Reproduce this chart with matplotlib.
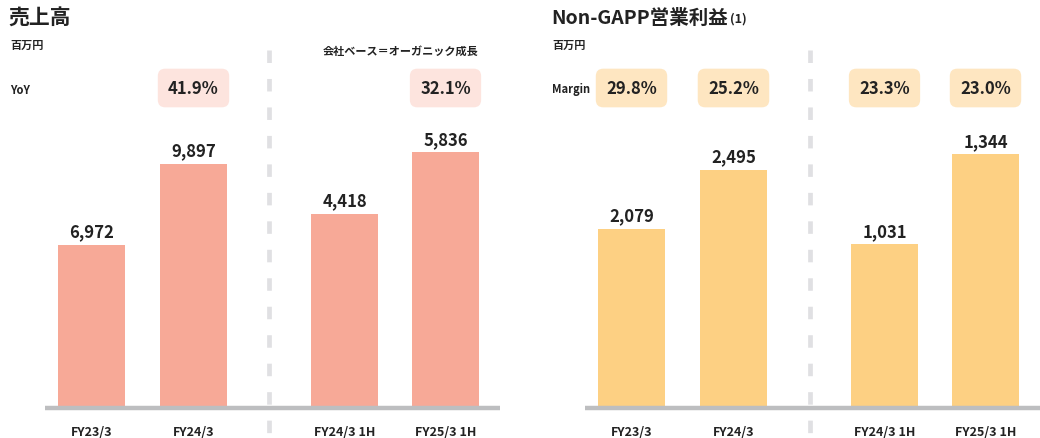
import matplotlib
matplotlib.use("Agg")
import matplotlib.pyplot as plt
from matplotlib.lines import Line2D
from matplotlib.transforms import blended_transform_factory

plt.rcParams['font.family'] = ['Noto Sans CJK JP', 'DejaVu Sans']
plt.rcParams['lines.scale_dashes'] = False

#  ------------  data  ---------------------------------------
full_year = ['FY23/3', 'FY24/3']
half_year = ['FY24/3 1H', 'FY25/3 1H']

sales_fy = [6972, 9897]
sales_1h = [4418, 5836]
sales_yoy = [None, '41.9%']
sales_yoy_1h = [None, '32.1%']

op_fy = [2079, 2495]
op_1h = [1031, 1344]
op_margin = ['29.8%', '25.2%']
op_margin_1h = ['23.3%', '23.0%']

# colours
pink = '#f7a997'
pink_light = '#fde4de'
yellow = '#fdd083'
yellow_light = '#fee6c1'
ink = '#222222'

W, H = 1040, 439
fig = plt.figure(figsize=(W / 100, H / 100), dpi=100)


def fx(px):
    return px / W


def fy(py):
    return 1 - py / H


AX_BOTTOM = 407
AX_TOP = 60


def add_group(left_px, right_px, cats, vals, badges, color, badge_color, ylim):
    '''one pair of bars in its own axes'''
    ax = fig.add_axes([fx(left_px), fy(AX_BOTTOM), fx(right_px - left_px),
                       (AX_BOTTOM - AX_TOP) / H])
    x = list(range(len(cats)))
    bars = ax.bar(x, vals, width=0.66, color=color, zorder=2)
    ax.set_xlim(-0.5, len(cats) - 0.5)
    ax.set_ylim(*ylim)
    for s in ax.spines.values():
        s.set_visible(False)
    ax.set_yticks([])
    ax.set_xticks(x, cats)
    ax.tick_params(axis='x', length=0, pad=14, labelsize=9, labelcolor=ink)
    for lab in ax.get_xticklabels():
        lab.set_fontweight('bold')
    for b, v in zip(bars, vals):
        ax.annotate(f'{v:,}', (b.get_x() + b.get_width() / 2, v),
                    xytext=(0, 6), textcoords='offset points',
                    ha='center', va='baseline', fontsize=12, fontweight='bold', color=ink)
    trans = blended_transform_factory(ax.transData, ax.transAxes)
    for i, t in enumerate(badges):
        if t is None:
            continue
        ax.text(i, (AX_BOTTOM - 89) / (AX_BOTTOM - AX_TOP), t, transform=trans,
                ha='center', va='center', fontsize=12, fontweight='bold', color=ink,
                bbox=dict(boxstyle='round,pad=0.62,rounding_size=0.45',
                          fc=badge_color, ec='none'))
    return ax


# left panel: sales
add_group(40.5, 244.5, full_year, sales_fy, sales_yoy, pink, pink_light, (1181, 13663))
add_group(294, 496, half_year, sales_1h, sales_yoy_1h, pink, pink_light, (0, 7977))

# right panel: Non-GAPP operating profit
add_group(580.5, 784.5, full_year, op_fy, op_margin, yellow, yellow_light, (837, 3272))
add_group(834, 1036, half_year, op_1h, op_margin_1h, yellow, yellow_light, (468, 1675))

# baselines
for x0, x1 in [(45, 500), (585, 1040)]:
    fig.add_artist(Line2D([fx(x0), fx(x1)], [fy(409), fy(409)], color='#bdbec0',
                          lw=3.2, solid_capstyle='butt', zorder=5))

# dashed dividers
for xd in [269, 810]:
    fig.add_artist(Line2D([fx(xd), fx(xd)], [fy(50.5), fy(434)], color='#e0e0e3',
                          lw=3.4, linestyle=(0, (9, 11.5)), dash_capstyle='butt'))

# titles and labels
fig.text(fx(8), fy(18), '売上高', fontsize=15, fontweight='bold', color=ink, va='center')
t = fig.text(fx(551), fy(18), 'Non-GAPP営業利益', fontsize=14, fontweight='bold',
             color=ink, va='center')
fig.canvas.draw()
t_end = t.get_window_extent().x1
fig.text(fx(t_end + 2), fy(19), '(1)', fontsize=9, fontweight='bold', color=ink, va='center')

for xpx in [10, 552]:
    fig.text(fx(xpx), fy(45), '百万円', fontsize=8, fontweight='bold', color=ink, va='center')
fig.text(fx(10), fy(90), 'YoY', fontsize=8, fontweight='bold', color=ink, va='center')
fig.text(fx(552), fy(90), 'Margin', fontsize=8, fontweight='bold', color=ink, va='center')
fig.text(fx(478), fy(51), '会社ベース＝オーガニック成長', fontsize=8, fontweight='bold',
         color=ink, va='center', ha='right')

fig.savefig('out.png', dpi=100)
